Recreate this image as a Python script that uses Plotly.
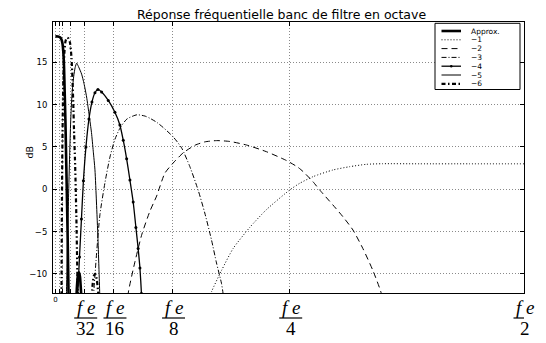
import plotly.graph_objects as go

# ---------------- data (f / fe , gain in dB) ----------------
approx_f = [0.0, 0.0028, 0.0049, 0.0065, 0.0076, 0.0084, 0.0092, 0.0099, 0.0107, 0.0115,
            0.0124, 0.0132, 0.0140, 0.0145, None,
            0.0220, 0.0230, 0.0241, 0.0252, 0.0262, 0.0273, 0.0284]
approx_db = [18.06, 18.05, 17.95, 17.7, 17.2, 16.3, 14.5, 11.5, 8.0, 3.5,
             -1.5, -6.5, -12.3, -16, None,
             -14, -11.5, -10.1, -9.8, -10.3, -12.0, -14]

d1_f = [0.1594, 0.1666, 0.1772, 0.1896, 0.2074, 0.2252, 0.2500, 0.2607, 0.2748, 0.2961,
        0.3139, 0.3317, 0.3491, 0.3885, 0.4418, 0.5000]
d1_db = [-14.5, -12.1, -9.6, -7.0, -4.5, -2.4, -0.08, 0.71, 1.49, 2.28,
         2.67, 2.95, 3.02, 3.01, 3.01, 3.01]

d2_f = [0.0763, 0.0777, 0.0848, 0.0923, 0.1008, 0.1080, 0.1168, 0.1256, 0.1363, 0.1488,
        0.1594, 0.1719, 0.1861, 0.2039, 0.2252, 0.2465, 0.2588, 0.2642, 0.2748, 0.2820,
        0.2961, 0.3068, 0.3175, 0.3281, 0.3388, 0.3477, 0.3500]
d2_db = [-15, -12.28, -8.6, -5.3, -2.6, -0.8, 1.9, 3.1, 4.3, 5.2,
         5.6, 5.75, 5.65, 5.23, 4.44, 3.4, 2.6, 2.1, 0.9, -0.08,
         -1.85, -3.24, -4.81, -7.0, -9.6, -12.28, -14]

d3_f = [0.0401, 0.0409, 0.0433, 0.0475, 0.0529, 0.0582, 0.0635, 0.0688, 0.0763, 0.0870,
        0.0955, 0.1008, 0.1083, 0.1150, 0.1256, 0.1346, 0.1434, 0.1523, 0.1594, 0.1666,
        0.1719, 0.1772, 0.1789, 0.1802]
d3_db = [-14, -12.3, -8.5, -3.0, 0.8, 3.8, 5.9, 7.2, 8.3, 8.8,
         8.65, 8.39, 7.9, 7.3, 6.2, 4.9, 2.7, -0.1, -2.8, -6.0,
         -8.7, -11.1, -12.3, -14]

d4_f = [0.0230, 0.0239, 0.0257, 0.0278, 0.0299, 0.0326, 0.0358, 0.0390, 0.0422, 0.0454,
        0.0493, 0.0564, 0.0635, 0.0688, 0.0724, 0.0760, 0.0795, 0.0830, 0.0859, 0.0883,
        0.0902, 0.0918, 0.0925]
d4_db = [-15, -12.3, -8, -3.5, 1, 5, 8.3, 10.3, 11.4, 11.8,
         11.5, 10.5, 9.1, 7.6, 5.8, 3.6, 1.1, -1.5, -4.5, -7,
         -9.3, -12.3, -15]

d5_f = [0.0113, 0.0118, 0.0129, 0.0140, 0.0152, 0.0163, 0.0177, 0.0195, 0.0211, 0.0227,
        0.0246, 0.0280, 0.0305, 0.0333, 0.0361, 0.0385, 0.0404, 0.0422, 0.0438, 0.0454,
        0.0465, 0.0473, 0.0479]
d5_db = [-15, -12.3, -6, -1, 4, 8, 11.2, 13.3, 14.4, 14.9,
         14.5, 13.6, 12.5, 10.9, 8.7, 6.7, 4.5, 2.3, -1.5, -5.8,
         -9.5, -12.3, -15]

d6_f = [0.0063, 0.0065, 0.0069, 0.0074, 0.0080, 0.0087, 0.0097, 0.0108, 0.0124, 0.0140,
        0.0156, 0.0172, 0.0182, 0.0191, 0.0200, 0.0209, 0.0217, 0.0225, 0.0232, 0.0238,
        0.0241, None,
        0.0385, 0.0395, 0.0411, 0.0427, 0.0443, 0.0459, 0.0470]
d6_db = [-15, -12.3, -3, 4.5, 10, 13.8, 16.3, 17.5, 17.9, 17.8,
         17.3, 15.5, 13, 10, 6.5, 3.5, 0, -4, -8.5, -12.3,
         -15, None,
         -14, -11.5, -10.2, -10.0, -10.8, -12.5, -14]

legend_names = ["Approx.", "\u22121", "\u22122", "\u22123", "\u22124", "\u22125", "\u22126"]
x_tickvals = [0, 1 / 256, 1 / 128, 1 / 64, 1 / 32, 1 / 16, 1 / 8, 1 / 4, 1 / 2]
frac_vals = [1 / 32, 1 / 16, 1 / 8, 1 / 4, 1 / 2]
frac_den = ["32", "16", "8", "4", "2"]
y_tickvals = [-10, -5, 0, 5, 10, 15]
title_text = "Réponse fréquentielle banc de filtre en octave"

# ---------------- styles ----------------
styles = [
    dict(width=2.6, dash="solid", marker=False),
    dict(width=1.0, dash="1px,2px", marker=False),
    dict(width=1.0, dash="6px,4px", marker=False),
    dict(width=1.0, dash="5px,2px,1px,2px", marker=False),
    dict(width=1.3, dash="solid", marker=True),
    dict(width=1.0, dash="solid", marker=False),
    dict(width=2.2, dash="4px,2.5px,1.5px,2.5px", marker=False),
]
series = [(approx_f, approx_db), (d1_f, d1_db), (d2_f, d2_db), (d3_f, d3_db),
          (d4_f, d4_db), (d5_f, d5_db), (d6_f, d6_db)]

fig = go.Figure()
for (xs, ys), st, name in zip(series, styles, legend_names):
    fig.add_trace(go.Scatter(
        x=xs, y=ys, name=name, showlegend=False,
        mode="lines+markers" if st["marker"] else "lines",
        line=dict(color="black", width=st["width"], dash=st["dash"],
                  shape="spline", smoothing=0.6),
        marker=dict(size=3, color="black"),
    ))

# plot area geometry (pixels)
L, R, T, B = 53, 524, 22, 293
W, H = 546, 343
PW, PH = R - L, B - T


def px(xp):
    return (xp - L) / PW


def py(yp):
    return (B - yp) / PH


font = "DejaVu Sans"
serif = "Liberation Serif"

fig.update_layout(
    width=W, height=H,
    margin=dict(l=L, r=W - R, t=T, b=H - B),
    paper_bgcolor="white", plot_bgcolor="white",
    font=dict(family=font, color="black", size=8),
    showlegend=False,
)
fig.update_xaxes(
    range=[-0.00256, 0.5], tickvals=x_tickvals,
    ticktext=["0"] + [""] * (len(x_tickvals) - 1),
    tickfont=dict(size=7, family=font),
    ticks="inside", ticklen=4, tickcolor="black",
    showline=True, linecolor="black", linewidth=1, mirror="ticks",
    showgrid=True, gridcolor="#8a8a8a", griddash="1px,2px", gridwidth=1,
    zeroline=False,
)
fig.update_yaxes(
    range=[-12.25, 19.76], tickvals=y_tickvals,
    tickfont=dict(size=8.5, family=font),
    ticks="inside", ticklen=4, tickcolor="black",
    showline=True, linecolor="black", linewidth=1, mirror="ticks",
    showgrid=True, gridcolor="#8a8a8a", griddash="1px,2px", gridwidth=1,
    zeroline=False, ticklabelstandoff=3,
)

annotations = []
shapes = []
# title
annotations.append(dict(text=title_text, x=0.5, y=1, xref="paper", yref="paper",
                        xanchor="center", yanchor="middle", yshift=T - 14, xshift=-7,
                        showarrow=False, font=dict(size=12.5, family=font)))
# y label
annotations.append(dict(text="dB", x=px(21), y=py(152), xref="paper", yref="paper",
                        textangle=-90, showarrow=False, font=dict(size=9.5, family=font)))
# fraction tick labels fe / n
for v, den in zip(frac_vals, frac_den):
    annotations.append(dict(text="<i>f e</i>", x=v, y=0, xref="x", yref="paper",
                            xanchor="center", yanchor="middle", yshift=-(307 - B), xshift=1,
                            showarrow=False, font=dict(size=19, family=serif)))
    annotations.append(dict(text=den, x=v, y=0, xref="x", yref="paper",
                            xanchor="center", yanchor="middle", yshift=-(328.5 - B), xshift=1,
                            showarrow=False, font=dict(size=19, family=serif)))
    shapes.append(dict(type="line", xref="x", yref="paper", xsizemode="pixel", xanchor=v,
                       x0=-10.5, x1=12.5, y0=py(318), y1=py(318),
                       line=dict(color="black", width=1.2)))

# legend box
rows = [31, 39.8, 48.6, 57.4, 66.2, 75, 83.8]
shapes.append(dict(type="rect", xref="paper", yref="paper",
                   x0=px(435), x1=px(520), y0=py(89.5), y1=py(23.3),
                   fillcolor="white", line=dict(color="black", width=1), layer="above"))
for rp, st, name in zip(rows, styles, legend_names):
    shapes.append(dict(type="line", xref="paper", yref="paper",
                       x0=px(441.5), x1=px(461), y0=py(rp), y1=py(rp),
                       line=dict(color="black", width=st["width"], dash=st["dash"]),
                       layer="above"))
    if st["marker"]:
        shapes.append(dict(type="circle", xref="paper", yref="paper",
                           x0=px(450), x1=px(452.5), y0=py(rp + 1.25), y1=py(rp - 1.25),
                           fillcolor="black", line=dict(color="black", width=0),
                           layer="above"))
    annotations.append(dict(text=name, x=px(470), y=py(rp), xref="paper", yref="paper",
                            xanchor="left", yanchor="middle", showarrow=False, borderpad=0,
                            font=dict(size=7.5, family=font)))

fig.update_layout(annotations=annotations, shapes=shapes)
fig.write_html("out.html")
